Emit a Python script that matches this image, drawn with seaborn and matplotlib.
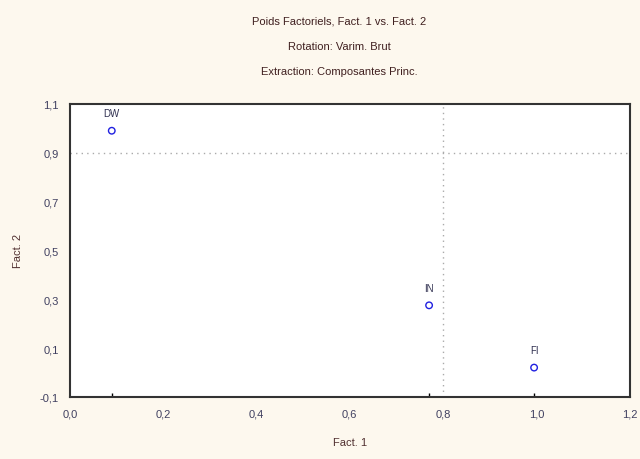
import numpy as np
import pandas as pd
import matplotlib
matplotlib.use("Agg")
import matplotlib.pyplot as plt
import seaborn as sns

variables = ["DW", "IN", "FI"]
fact1 = [0.09, 0.77, 0.995]
fact2 = [0.99, 0.275, 0.02]

x_ticks = [0.0, 0.2, 0.4, 0.6, 0.8, 1.0, 1.2]
x_labels = ["0,0", "0,2", "0,4", "0,6", "0,8", "1,0", "1,2"]
y_ticks = [-0.1, 0.1, 0.3, 0.5, 0.7, 0.9, 1.1]
y_labels = ["-0,1", "0,1", "0,3", "0,5", "0,7", "0,9", "1,1"]

title_lines = ["Poids Factoriels, Fact. 1 vs. Fact. 2",
               "Rotation: Varim. Brut",
               "Extraction: Composantes Princ."]

df = pd.DataFrame({"var": variables, "f1": fact1, "f2": fact2})

sns.set_style("white")
plt.rcParams["font.family"] = ["Liberation Sans", "DejaVu Sans"]

bg = "#fdf8ee"
fig = plt.figure(figsize=(6.4, 4.6), dpi=100, facecolor=bg)
ax = fig.add_axes([0.109, 0.135, 0.875, 0.637])
ax.set_facecolor("white")

sns.scatterplot(data=df, x="f1", y="f2", ax=ax, marker="o", s=22,
                facecolors="none", edgecolor="#2020e0", linewidth=1.0)
for _, r in df.iterrows():
    ax.annotate(r["var"], (r["f1"], r["f2"]), xytext=(0, 9),
                textcoords="offset points", ha="center", va="bottom",
                fontsize=7, color="#303050")

# reference lines
ax.axvline(0.8, color="#aaaaaa", linestyle=(0, (1, 3)), linewidth=1)
ax.axhline(0.9, color="#aaaaaa", linestyle=(0, (1, 3)), linewidth=1)

# little marks on the frame at the point positions
sns.rugplot(data=df, x="f1", ax=ax, height=0.012, color="black", linewidth=1)

ax.set_xlim(0, 1.2)
ax.set_ylim(-0.1, 1.1)
ax.set_xticks(x_ticks)
ax.set_xticklabels(x_labels)
ax.set_yticks(y_ticks)
ax.set_yticklabels(y_labels)
ax.tick_params(length=0, labelsize=8, colors="#404060", pad=8)
for s in ax.spines.values():
    s.set_color("#333333")
    s.set_linewidth(1.5)

ax.set_xlabel("Fact. 1", fontsize=8, color="#503030", labelpad=14)
ax.set_ylabel("Fact. 2", fontsize=8, color="#503030", labelpad=12)

for i, line in enumerate(title_lines):
    fig.text(0.53, 1 - (22 + 25 * i) / 460, line, ha="center", va="center",
             fontsize=8, color="#402020")

fig.savefig("out.png", dpi=100, facecolor=bg)
